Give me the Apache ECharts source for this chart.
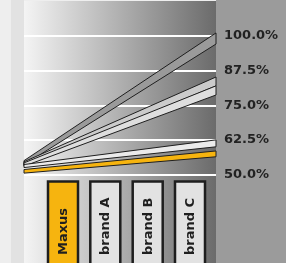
<!DOCTYPE html>
<html>
<head>
<meta charset="utf-8">
<script src="https://cdn.jsdelivr.net/npm/echarts@6/dist/echarts.min.js"></script>
<style>
  html, body { margin: 0; padding: 0; background: #eeeeee; }
  #chart { width: 286px; height: 263px; }
</style>
</head>
<body>
<div id="chart"></div>
<script>
// legend boxes (bottom)
const brands = ['Maxus', 'brand A', 'brand B', 'brand C'];
const brandColors = ['#f6b40f', '#e2e2e2', '#e2e2e2', '#e2e2e2'];

// y axis ticks
const yTicks = [50, 62.5, 75, 87.5, 100];

// ribbons: each one fans out from the left edge to a band on the right edge
const ribbonNames = ['brand C', 'brand B', 'brand B', 'brand A', 'Maxus'];
const startLow  = [53.5, 53.3, 53.0, 52.5, 50.5];
const startHigh = [55.0, 54.6, 54.2, 53.6, 51.8];
const endLow    = [97.1, 82.0, 78.7, 60.0, 56.4];
const endHigh   = [101.1, 85.2, 82.0, 62.5, 58.5];
const ribbonFill = ['#9a9a9a', '#cbcbcb', '#dedede', '#ebebeb', '#f6b40f'];

let chart = echarts.init(document.getElementById('chart'));

const ribbonData = ribbonNames.map((n, i) => ({
    name: n,
    value: [startLow[i], startHigh[i], endLow[i], endHigh[i]],
    itemStyle: { color: ribbonFill[i] }
}));

// legend boxes + background panels as graphics
const boxX = [48, 90.3, 132.7, 175];
const graphics = [
    { type: 'rect', z: -100, shape: { x: 0, y: 0, width: 286, height: 263 }, style: { fill: '#eeeeee' } },
    { type: 'rect', z: -99, shape: { x: 11, y: 0, width: 13, height: 263 }, style: { fill: '#e2e2e2' } },
    {
        type: 'rect', z: -99, shape: { x: 24, y: 1, width: 192, height: 262 },
        style: {
            fill: new echarts.graphic.LinearGradient(0, 0, 1, 0, [
                { offset: 0, color: '#f4f4f4' },
                { offset: 1, color: '#6b6b6b' }
            ])
        }
    },
    { type: 'rect', z: -99, shape: { x: 216, y: 0, width: 70, height: 263 }, style: { fill: '#9b9b9b' } }
];
brands.forEach((b, i) => {
    graphics.push({
        type: 'rect', z: 50,
        shape: { x: boxX[i], y: 181.5, width: 30, height: 100 },
        style: { fill: brandColors[i], stroke: '#1e1e1e', lineWidth: 2.5 }
    });
    graphics.push({
        type: 'text', z: 51,
        x: boxX[i] + 15.5, y: 255, rotation: Math.PI / 2,
        style: {
            text: b, align: 'left', verticalAlign: 'middle',
            font: 'bold 13px "DejaVu Sans"', fill: '#1f1f1f'
        }
    });
});

chart.setOption({
    animation: false,
    graphic: graphics,
    grid: { left: 24, right: 70, top: 36, bottom: 88.5 },
    xAxis: { type: 'value', min: 0, max: 1, show: false },
    yAxis: {
        type: 'value',
        position: 'right',
        min: yTicks[0],
        max: yTicks[yTicks.length - 1],
        interval: 12.5,
        axisLine: { show: false },
        axisTick: { show: false },
        splitLine: { lineStyle: { color: '#ffffff', width: 2 } },
        axisLabel: {
            margin: 8,
            color: '#222222',
            fontFamily: 'DejaVu Sans',
            fontWeight: 'bold',
            fontSize: 13,
            formatter: v => v.toFixed(1) + '%'
        }
    },
    series: [{
        type: 'custom',
        clip: false,
        data: ribbonData,
        renderItem: (params, api) => {
            const a = api.coord([0, api.value(0)]);
            const b = api.coord([0, api.value(1)]);
            const c = api.coord([1, api.value(3)]);
            const d = api.coord([1, api.value(2)]);
            return {
                type: 'polygon',
                shape: { points: [a, b, c, d] },
                style: { fill: api.visual('color'), stroke: '#1f1f1f', lineWidth: 1 }
            };
        }
    }]
});
</script>
</body>
</html>
